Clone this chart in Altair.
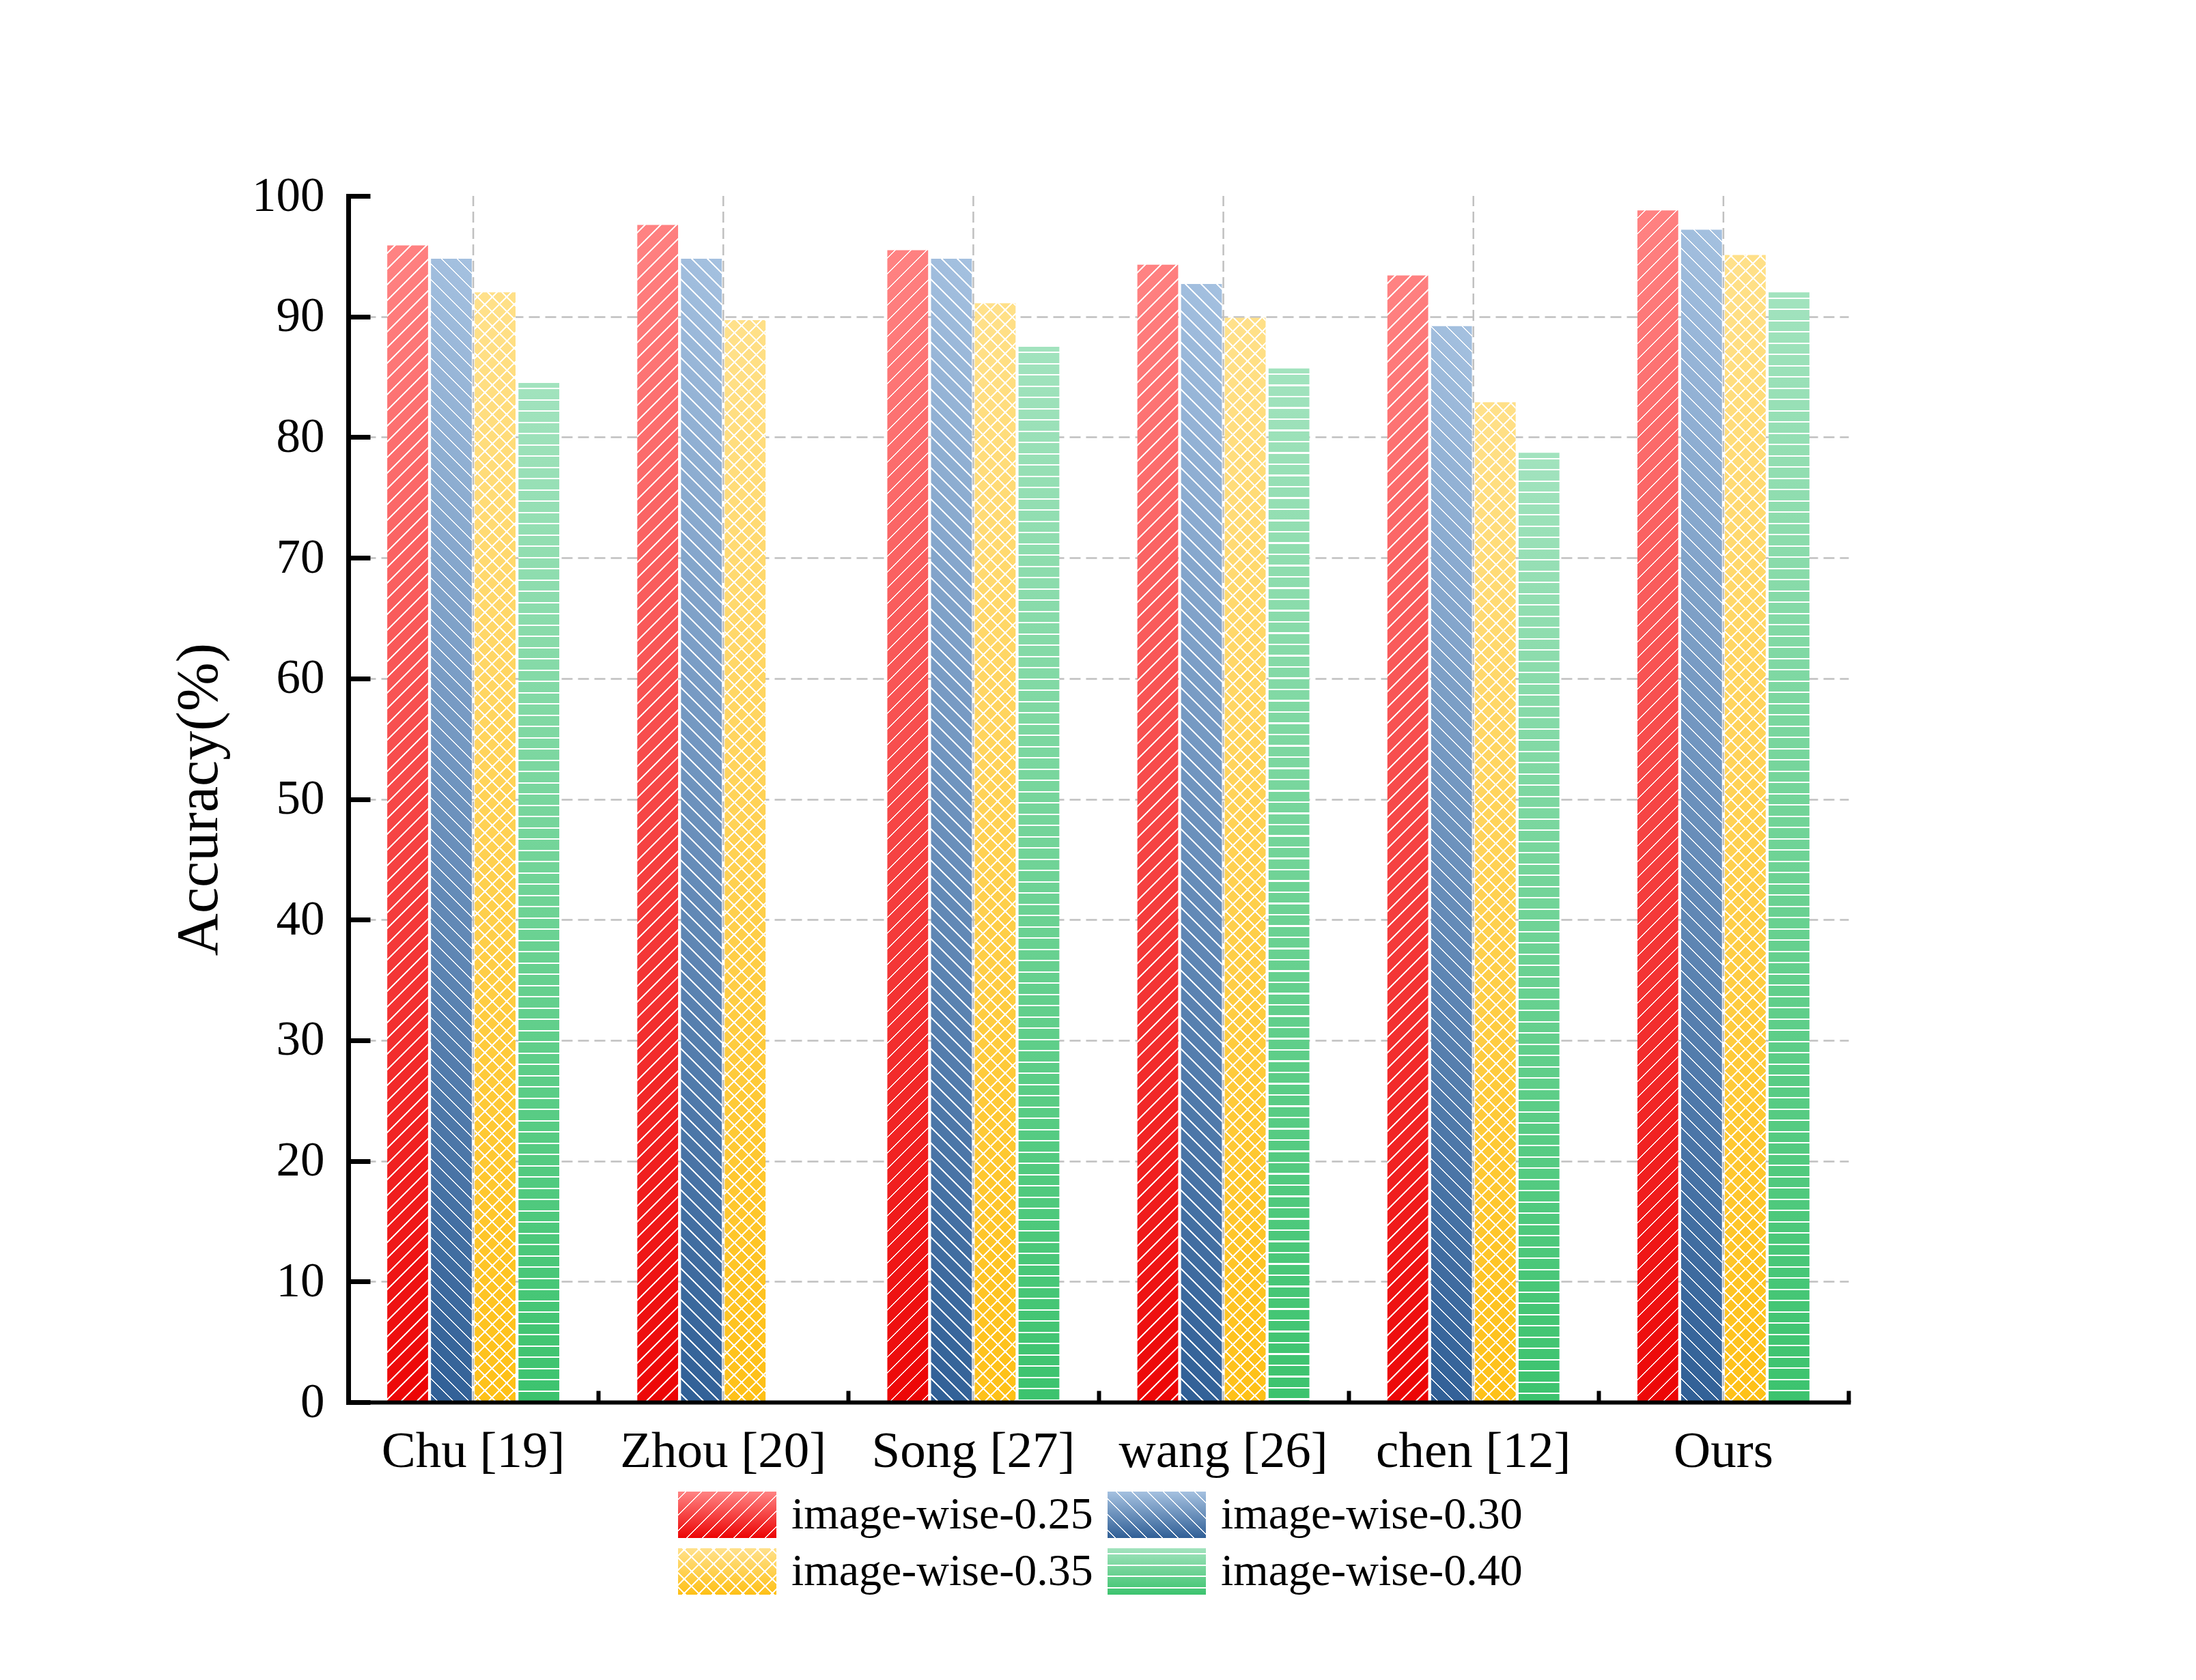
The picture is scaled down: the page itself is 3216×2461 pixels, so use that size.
import altair as alt
import pandas as pd

# ---------------- data ----------------
methods = ["Chu [19]", "Zhou [20]", "Song [27]", "wang [26]", "chen [12]", "Ours"]
series_names = ["image-wise-0.25", "image-wise-0.30", "image-wise-0.35", "image-wise-0.40"]
acc_025 = [95.9, 97.6, 95.5, 94.3, 93.4, 98.8]
acc_030 = [94.8, 94.8, 94.8, 92.7, 89.2, 97.2]
acc_035 = [92.0, 89.7, 91.1, 89.9, 82.9, 95.1]
acc_040 = [84.5, None, 87.5, 85.7, 78.7, 92.0]
y_tick_values = [0, 10, 20, 30, 40, 50, 60, 70, 80, 90, 100]
grid_values = [10, 20, 30, 40, 50, 60, 70, 80, 90]
legend_col = [0, 1, 0, 1]
legend_row = [0, 0, 1, 1]

series_values = dict(zip(series_names, [acc_025, acc_030, acc_035, acc_040]))
rows = []
for s in series_names:
    for m, v in zip(methods, series_values[s]):
        if v is not None:
            rows.append({"method": m, "series": s, "value": v})
df = pd.DataFrame(rows)
grid_df = pd.DataFrame({"method": methods, "lo": [0] * len(methods), "hi": [100] * len(methods)})
leg_df = pd.DataFrame({"label": series_names, "col": legend_col, "row": legend_row})

# ---------------- style ----------------
FONT = "Liberation Serif"
W, H = 2197, 1767
PAD_IN, PAD_OUT, SUB_PAD = 0.312, 0.156, 0.067
STEP = W / (len(methods) - PAD_IN + 2 * PAD_OUT)
BAND = STEP * (1 - PAD_IN)
BAR_W = BAND / (len(series_names) - SUB_PAD) * (1 - SUB_PAD)
SW_W, SW_H = 144.0, 68.0

palette = {
    "image-wise-0.25": ((255, 132, 132), (236, 4, 4)),
    "image-wise-0.30": ((165, 193, 224), (48, 95, 150)),
    "image-wise-0.35": ((255, 225, 140), (254, 192, 22)),
    "image-wise-0.40": ((162, 227, 190), (60, 195, 110)),
}
hatch = {
    "image-wise-0.25": [("up", 23.0, 2.6)],
    "image-wise-0.30": [("down", 23.0, 2.6)],
    "image-wise-0.35": [("up", 21.5, 3.0), ("down", 21.5, 3.0)],
    "image-wise-0.40": [("horiz", 16.5, 2.2)],
}


def mix(c0, c1, f):
    f = min(max(f, 0.0), 1.0)
    return "#%02x%02x%02x" % tuple(int(round(a + (b - a) * f)) for a, b in zip(c0, c1))


def vertical_gradient(colours):
    c0, c1 = colours
    return alt.LinearGradient(gradient="linear", x1=0, y1=0, x2=0, y2=1,
                              stops=[{"offset": 0, "color": mix(c0, c1, 0)},
                                     {"offset": 1, "color": mix(c0, c1, 1)}])


def hatch_gradient(w, h, kind, period, thick, colours=None):
    if kind == "horiz":
        total = h
        coords = dict(x1=0, y1=0, x2=0, y2=1)
        frac = lambda t: t
    else:
        total = w + h
        lam = w * (w + h) / (w * w + h * h)
        if kind == "up":
            coords = dict(x1=0, y1=0, x2=lam, y2=lam * h / w)
            frac = lambda t: t
        else:
            coords = dict(x1=0, y1=1, x2=lam, y2=1 - lam * h / w)
            frac = lambda t: 1 - t
    if colours is None:
        col = lambda t: "rgba(255,255,255,0)"
    else:
        c0, c1 = colours
        col = lambda t: mix(c0, c1, frac(t))
    white = "#ffffff"
    phase = period * 0.5
    segs = []
    k = 0
    while True:
        c = phase + k * period
        a, b = c - thick / 2, c + thick / 2
        if a >= total:
            break
        segs.append((max(a, 0.0), min(b, total)))
        k += 1
    out = []
    cur = 0.0
    for a, b in segs:
        if a > cur:
            out.append((cur, col(cur / total)))
            out.append((a, col(a / total)))
        out.append((a, white))
        out.append((b, white))
        cur = b
    if cur < total:
        out.append((cur, col(cur / total)))
        out.append((total, col(1.0)))
    stops = [{"offset": round(s / total, 7), "color": c} for s, c in out]
    return alt.LinearGradient(gradient="linear", stops=stops, **coords)


# ---------------- scales & axes ----------------
x_scale = alt.Scale(domain=methods, paddingInner=PAD_IN, paddingOuter=PAD_OUT)
xo_scale = alt.Scale(domain=series_names, paddingInner=SUB_PAD, paddingOuter=0)
y_scale = alt.Scale(domain=[0, 100], nice=False, zero=True)

x_main = alt.Axis(orient="bottom", title=None, labelAngle=0, labelFont=FONT, labelFontSize=75,
                  labelColor="black", labelPadding=35, labelLimit=2000, ticks=False, tickSize=0,
                  domain=True, domainColor="black", domainWidth=6, domainCap="square",
                  grid=False, zindex=1)
x_tick = alt.Axis(orient="bottom", title=None, labels=False, domain=False, grid=False, ticks=True,
                  tickOffset=STEP / 2, tickSize=17, tickWidth=6, tickColor="black", offset=-17)
y_main = alt.Axis(orient="left", values=y_tick_values, title="Accuracy(%)", titleFont=FONT,
                  titleFontSize=86, titleFontWeight="normal", titleColor="black", titlePadding=33,
                  labelFont=FONT, labelFontSize=71, labelColor="black", labelPadding=35,
                  ticks=False, tickSize=0, domain=True, domainColor="black", domainWidth=7,
                  domainCap="square", grid=False, zindex=1)
y_tick = alt.Axis(orient="left", values=y_tick_values, title=None, labels=False, domain=False,
                  grid=False, ticks=True, tickSize=32, tickWidth=7, tickColor="black", offset=-32)
y_grid = alt.Axis(orient="left", values=grid_values, title=None, labels=False, domain=False,
                  ticks=False, grid=True, gridColor="#c0c0c0", gridDash=[16, 8], gridWidth=2.5)

# ---------------- plot layers ----------------
layers = [
    alt.Chart(grid_df).mark_rule(color="#c0c0c0", strokeWidth=2.5, strokeDash=[16, 8]).encode(
        x=alt.X("method:N", scale=x_scale, axis=x_main),
        y=alt.Y("lo:Q", scale=y_scale, axis=y_grid),
        y2="hi:Q",
    )
]

idx = 0
for s in series_names:
    for m, v in zip(methods, series_values[s]):
        if v is None:
            continue
        h = v / 100.0 * H
        for j, (kind, period, thick) in enumerate(hatch[s]):
            grad = hatch_gradient(BAR_W, h, kind, period, thick, palette[s] if j == 0 else None)
            xa = x_tick if idx == 0 else None
            ya = y_tick if idx == 0 else (y_main if idx == 1 else None)
            layers.append(
                alt.Chart(df)
                .transform_filter(f"datum.method === '{m}' && datum.series === '{s}'")
                .mark_bar(fill=grad, strokeWidth=0)
                .encode(
                    x=alt.X("method:N", scale=x_scale, axis=xa),
                    xOffset=alt.XOffset("series:N", scale=xo_scale),
                    y=alt.Y("value:Q", scale=y_scale, axis=ya),
                )
            )
            idx += 1

inner = alt.layer(*layers).resolve_axis(x="independent", y="independent")

# ---------------- legend layers ----------------
lx = alt.X("col:Q", scale=alt.Scale(domain=[0, 1], range=[555, 1184], nice=False, zero=False), axis=None)
ly = alt.Y("row:Q", scale=alt.Scale(domain=[0, 1], range=[1932, 2015], nice=False, zero=False), axis=None)
SWATCH_PATH = "M-1,-0.4722L1,-0.4722L1,0.4722L-1,0.4722Z"

leg_layers = []
for s in series_names:
    fills = [vertical_gradient(palette[s])]
    for kind, period, thick in hatch[s]:
        fills.append(hatch_gradient(SW_W, SW_H, kind, period, thick, None))
    for grad in fills:
        leg_layers.append(
            alt.Chart(leg_df)
            .transform_filter(f"datum.label === '{s}'")
            .mark_point(shape=SWATCH_PATH, size=SW_W * SW_W, filled=True, fill=grad,
                        opacity=1, strokeWidth=0)
            .encode(x=lx, y=ly)
        )
leg_layers.append(
    alt.Chart(leg_df)
    .mark_text(align="left", baseline="middle", dx=SW_W / 2 + 22, font=FONT, fontSize=66, color="black")
    .encode(x=lx, y=ly, text="label:N")
)
legend = alt.layer(*leg_layers)

chart = (
    alt.layer(inner, legend)
    .resolve_scale(x="independent", y="independent")
    .properties(
        width=W,
        height=H,
        autosize=alt.AutoSizeParams(type="none"),
        padding={"left": 502, "top": 279, "right": 480, "bottom": 380},
    )
    .configure(font=FONT)
    .configure_view(stroke=None)
)

chart.save("out.html", embed_options={"renderer": "svg", "actions": False})
